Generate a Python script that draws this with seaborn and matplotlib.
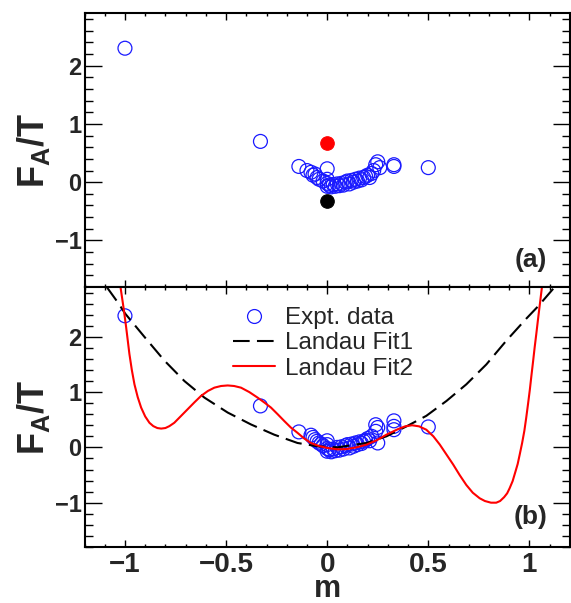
import matplotlib
matplotlib.use("Agg")
import matplotlib.pyplot as plt
import seaborn as sns
from matplotlib.ticker import MultipleLocator, FuncFormatter
from matplotlib.lines import Line2D

# =====================================
# Data
# =====================================
# panel (a): free energy points
m_a = [-1.00, -0.33, -0.14, -0.10, -0.08, -0.07, -0.06, -0.05, -0.04, -0.02,
       0.00, 0.00, 0.00, 0.00, 0.01, 0.02, 0.03, 0.04, 0.05, 0.06,
       0.07, 0.08, 0.09, 0.10, 0.11, 0.12, 0.13, 0.14, 0.15, 0.16,
       0.17, 0.18, 0.19, 0.20, 0.21, 0.22, 0.23, 0.24, 0.25, 0.26,
       0.33, 0.33, 0.50]
F_a = [2.30, 0.70, 0.27, 0.20, 0.17, 0.12, 0.14, 0.08, 0.05, 0.02,
       0.23, 0.05, -0.02, -0.07, -0.05, -0.08, -0.04, -0.07, -0.03, -0.06,
       -0.02, -0.05, 0.00, 0.02, -0.03, 0.03, 0.00, 0.05, 0.02, 0.07,
       0.04, 0.08, 0.10, 0.12, 0.08, 0.15, 0.20, 0.30, 0.35, 0.25,
       0.30, 0.27, 0.25]

# special points in panel (a)
m_red, F_red = [0.0], [0.68]
m_black, F_black = [0.0], [-0.33]

# panel (b): shifted points
m_b = [-1.00, -0.33, -0.14, -0.08, -0.07, -0.06, -0.05, -0.04, -0.03, -0.02,
       0.00, 0.00, 0.00, 0.00, 0.01, 0.02, 0.03, 0.04, 0.05, 0.06,
       0.07, 0.08, 0.09, 0.10, 0.11, 0.12, 0.13, 0.14, 0.15, 0.16,
       0.17, 0.18, 0.19, 0.20, 0.21, 0.22, 0.24, 0.24, 0.25, 0.25,
       0.33, 0.33, 0.33, 0.50]
F_b = [2.38, 0.75, 0.28, 0.22, 0.18, 0.14, 0.11, 0.08, 0.06, 0.03,
       0.12, 0.05, -0.02, -0.07, -0.04, -0.08, -0.03, -0.06, 0.00, -0.05,
       0.01, -0.03, 0.03, 0.05, -0.01, 0.06, 0.02, 0.08, 0.05, 0.10,
       0.07, 0.11, 0.13, 0.16, 0.12, 0.20, 0.29, 0.41, 0.36, 0.08,
       0.48, 0.38, 0.32, 0.37]

# Landau fits
fit1_m = [-1.09, -1.035, -0.999, -0.904, -0.805, -0.706, -0.607, -0.492, -0.377,
          -0.262, -0.147, -0.048, 0.05, 0.195, 0.293, 0.392, 0.49, 0.59,
          0.688, 0.787, 0.886, 0.985, 1.045, 1.125]
fit1_F = [2.9, 2.62, 2.42, 2.0, 1.57, 1.2, 0.9, 0.63, 0.415,
          0.23, 0.08, 0.02, 0.0, 0.08, 0.2, 0.38, 0.57, 0.84,
          1.14, 1.5, 1.93, 2.33, 2.56, 2.9]

fit2_m = [-1.022, -1.014, -1.006, -0.994, -0.986, -0.978, -0.966, -0.953, -0.937,
          -0.92, -0.90, -0.879, -0.86, -0.84, -0.821, -0.80, -0.78, -0.756,
          -0.725, -0.69, -0.655, -0.624, -0.59, -0.558, -0.525, -0.492, -0.46,
          -0.426, -0.385, -0.344, -0.31, -0.278, -0.245, -0.212, -0.18, -0.147,
          -0.115, -0.081, -0.04, 0.0, 0.05, 0.096, 0.145, 0.195, 0.245,
          0.293, 0.35, 0.385, 0.42, 0.455, 0.49, 0.525, 0.557, 0.59,
          0.623, 0.655, 0.688, 0.72, 0.754, 0.78, 0.81, 0.836, 0.855,
          0.875, 0.89, 0.902, 0.917, 0.93, 0.942, 0.952, 0.964, 0.975,
          0.984, 0.993, 1.002, 1.01, 1.018, 1.026, 1.034, 1.042, 1.052, 1.062]
fit2_F = [2.9, 2.7, 2.5, 2.17, 1.93, 1.69, 1.40, 1.14, 0.91,
          0.72, 0.56, 0.445, 0.385, 0.35, 0.34, 0.35, 0.385, 0.445,
          0.56, 0.69, 0.82, 0.93, 1.02, 1.08, 1.11, 1.12, 1.11,
          1.08, 1.00, 0.9, 0.81, 0.72, 0.60, 0.476, 0.36, 0.264,
          0.165, 0.08, 0.025, -0.01, -0.035, -0.03, 0.0, 0.05, 0.13,
          0.23, 0.33, 0.38, 0.40, 0.38, 0.32, 0.20, 0.05, -0.13,
          -0.31, -0.50, -0.68, -0.82, -0.92, -0.97, -1.0, -1.0, -0.97,
          -0.9, -0.83, -0.74, -0.61, -0.45, -0.3, -0.13, 0.08, 0.3,
          0.53, 0.78, 1.04, 1.3, 1.55, 1.81, 2.05, 2.3, 2.6, 2.9]

# =====================================
# Style
# =====================================
sns.set_style("ticks")
plt.rcParams["font.family"] = ["Liberation Sans", "DejaVu Sans"]
plt.rcParams["font.weight"] = "bold"
plt.rcParams["mathtext.fontset"] = "custom"
plt.rcParams["mathtext.bf"] = "Liberation Sans:bold"
plt.rcParams["mathtext.rm"] = "Liberation Sans"

blue = "#1a1aff"

fig = plt.figure(figsize=(5.71, 6.03), dpi=100)
ax1 = fig.add_axes([0.148, 0.524, 0.850, 0.454])
ax2 = fig.add_axes([0.148, 0.093, 0.850, 0.431])

# =====================================
# Panel (a)
# =====================================
sns.scatterplot(x=m_a, y=F_a, ax=ax1, marker="o", s=100, linewidth=0.9)
ax1.collections[-1].set_facecolor("none")
ax1.collections[-1].set_edgecolor(blue)
sns.scatterplot(x=m_red, y=F_red, ax=ax1, color="red", edgecolor="red", s=95)
sns.scatterplot(x=m_black, y=F_black, ax=ax1, color="black", edgecolor="black", s=95)

# =====================================
# Panel (b)
# =====================================
sns.scatterplot(x=m_b, y=F_b, ax=ax2, marker="o", s=100, linewidth=0.9)
ax2.collections[-1].set_facecolor("none")
ax2.collections[-1].set_edgecolor(blue)
sns.lineplot(x=fit1_m, y=fit1_F, ax=ax2, sort=False, estimator=None,
             color="black", linewidth=1.5)
ax2.lines[-1].set_dashes((8, 3.5))
sns.lineplot(x=fit2_m, y=fit2_F, ax=ax2, sort=False, estimator=None,
             color="red", linewidth=1.5)

handles = [
    Line2D([], [], marker="o", ls="none", mfc="none", mec=blue, ms=10, mew=0.9),
    Line2D([], [], color="black", lw=1.5, dashes=(8, 3.5)),
    Line2D([], [], color="red", lw=1.5),
]
ax2.legend(handles, ["Expt. data", "Landau Fit1", "Landau Fit2"],
           loc="upper left", bbox_to_anchor=(0.305, 0.922), frameon=False,
           prop={"weight": "normal", "size": 17.5}, borderpad=0, borderaxespad=0,
           handlelength=1.73, handletextpad=0.41, labelspacing=0.13)

# =====================================
# Axes formatting
# =====================================
fmt = FuncFormatter(lambda v, p: f"{v:g}".replace("-", "\u2212"))
for ax in (ax1, ax2):
    ax.set_xlim(-1.2, 1.2)
    ax.set_ylim(-1.8, 2.9)
    ax.xaxis.set_major_locator(MultipleLocator(0.5))
    ax.xaxis.set_minor_locator(MultipleLocator(0.1))
    ax.yaxis.set_major_locator(MultipleLocator(1))
    ax.yaxis.set_minor_locator(MultipleLocator(0.2))
    ax.xaxis.set_major_formatter(fmt)
    ax.tick_params(which="both", direction="in", top=True, right=True,
                   width=1, color="black")
    ax.tick_params(axis="x", which="major", length=5, labelsize=20, pad=4)
    ax.tick_params(axis="x", which="minor", length=2.5)
    ax.tick_params(axis="y", which="major", length=12, labelsize=17, pad=2)
    ax.tick_params(axis="y", which="minor", length=6)
    for sp in ax.spines.values():
        sp.set_linewidth(1.5)
        sp.set_color("black")
    ax.set_ylabel(r"$\mathbf{F_{A}/T}$", fontsize=26, labelpad=2)

ax1.tick_params(axis="x", labelbottom=False)
ax2.set_xlabel("m", fontsize=22, fontweight="bold", labelpad=-3)

ax1.text(0.953, 0.055, "(a)", transform=ax1.transAxes, ha="right", va="bottom",
         fontsize=19, fontweight="bold")
ax2.text(0.953, 0.07, "(b)", transform=ax2.transAxes, ha="right", va="bottom",
         fontsize=19, fontweight="bold")

plt.savefig("out.png", dpi=100)
plt.close()
